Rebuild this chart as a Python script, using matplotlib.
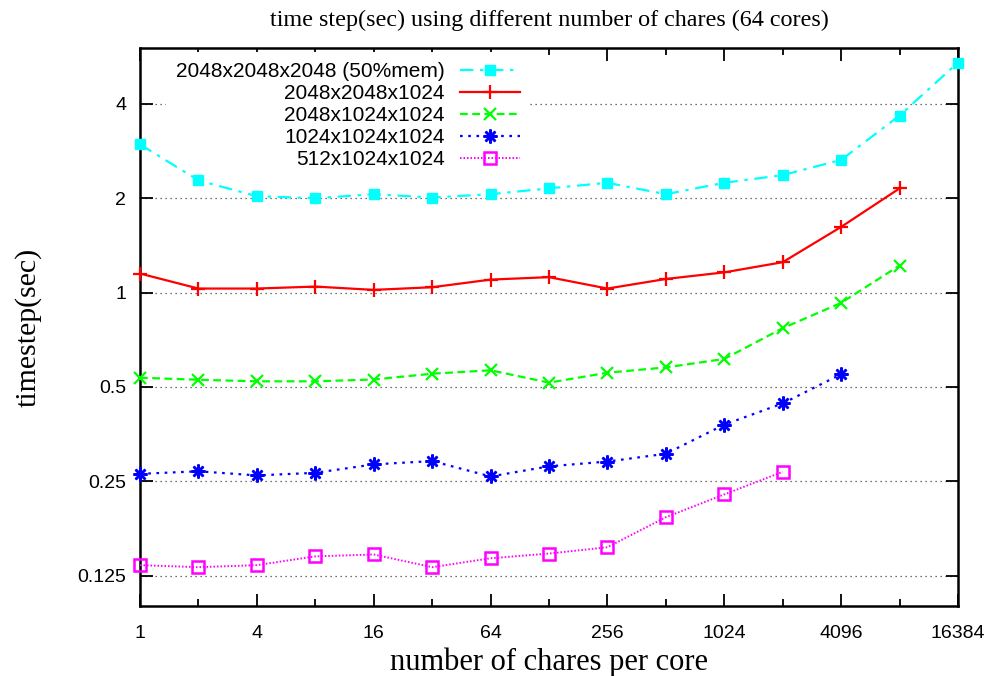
import numpy as np
import matplotlib
matplotlib.use("Agg")
import matplotlib.pyplot as plt
from matplotlib.ticker import FixedLocator, NullLocator, NullFormatter

# chares per core (powers of two)
chares = [1, 2, 4, 8, 16, 32, 64, 128, 256, 512, 1024, 2048, 4096, 8192, 16384]

t_2048_2048_2048 = [2.97, 2.28, 2.03, 2.00, 2.06, 2.01, 2.06, 2.15, 2.24, 2.06,
                    2.24, 2.37, 2.65, 3.67, 5.42]
t_2048_2048_1024 = [1.15, 1.03, 1.03, 1.045, 1.02, 1.04, 1.10, 1.12, 1.03, 1.105,
                    1.16, 1.25, 1.62, 2.15]
t_2048_1024_1024 = [0.535, 0.527, 0.521, 0.521, 0.528, 0.551, 0.565, 0.516, 0.555,
                    0.577, 0.614, 0.770, 0.927, 1.22]
t_1024_1024_1024 = [0.264, 0.269, 0.261, 0.266, 0.283, 0.290, 0.259, 0.279, 0.289,
                    0.306, 0.379, 0.443, 0.549]
t_512_1024_1024 = [0.135, 0.133, 0.135, 0.144, 0.146, 0.133, 0.142, 0.147, 0.154,
                   0.192, 0.227, 0.268]

labels = ["2048x2048x2048 (50%mem)", "2048x2048x1024", "2048x1024x1024",
          "1024x1024x1024", "512x1024x1024"]

xticks = [1, 4, 16, 64, 256, 1024, 4096, 16384]
xminor = [2, 8, 32, 128, 512, 2048, 8192]
yticks = [0.125, 0.25, 0.5, 1, 2, 4]
ytick_labels = ["0.125", "0.25", "0.5", "1", "2", "4"]

serif = "Liberation Serif"
sans = "Liberation Sans"

fig = plt.figure(figsize=(9.93, 6.76), dpi=100)
ax = fig.add_axes([140 / 993, 1 - 606 / 676, 818 / 993, 558 / 676])

series = [
    (t_2048_2048_2048, "#00ffff", (0, (6, 3, 1.5, 3)), "s", dict(markersize=7.5)),
    (t_2048_2048_1024, "#ff0000", "-", "+", dict(markersize=10, markeredgewidth=1.6)),
    (t_2048_1024_1024, "#00ff00", (0, (3.5, 2)), "x", dict(markersize=8, markeredgewidth=1.6)),
    (t_1024_1024_1024, "#0000ff", (0, (1.2, 2.5)), (8, 2, 0), dict(markersize=10, markeredgewidth=1.8)),
    (t_512_1024_1024, "#ff00ff", (0, (0.8, 1.0)), "s", dict(markersize=8, markerfacecolor="none",
                                                            markeredgewidth=1.8)),
]

for (vals, col, ls, mk, kw), lab in zip(series, labels):
    lw = 1.4 if col == "#ff00ff" else 1.6
    ax.plot(chares[:len(vals)], vals, color=col, linestyle=ls, linewidth=lw,
            marker=mk, markeredgecolor=col, label=lab, clip_on=False, zorder=3, **kw)

ax.set_xscale("log", base=2)
ax.set_yscale("log", base=2)
ax.set_xlim(1, 16384)
ax.set_ylim(0.1, 6.03)

ax.xaxis.set_major_locator(FixedLocator(xticks))
ax.set_xticklabels([str(v) for v in xticks])
ax.xaxis.set_minor_locator(FixedLocator(xminor))
ax.xaxis.set_minor_formatter(NullFormatter())
ax.yaxis.set_major_locator(FixedLocator(yticks))
ax.set_yticklabels(ytick_labels)
ax.yaxis.set_minor_locator(NullLocator())

ax.tick_params(which="both", direction="in", top=True, right=True, width=1.3)
ax.tick_params(which="major", length=9)
ax.tick_params(which="minor", length=5)
ax.tick_params(axis="x", which="major", pad=14)
ax.tick_params(axis="y", which="major", pad=10)
for t in ax.get_xticklabels() + ax.get_yticklabels():
    t.set_fontfamily(sans)
    t.set_fontsize(14)

for s in ax.spines.values():
    s.set_linewidth(1.8)

ax.yaxis.grid(True, which="major", color="#444444", linestyle=(0, (1, 3)), linewidth=0.9)
ax.set_axisbelow(True)

ax.set_title("time step(sec) using different number of chares (64 cores)",
             fontfamily=serif, fontsize=17.4, pad=16)
ax.set_xlabel("number of chares per core", fontfamily=serif, fontsize=22)
ax.set_ylabel("timestep(sec)", fontfamily=serif, fontsize=21.5)
ax.xaxis.set_label_coords(0.5, -0.074)
ax.yaxis.set_label_coords(-0.12, 0.5)

leg = ax.legend(loc="upper right", bbox_to_anchor=(0.477, 0.993), markerfirst=False,
                frameon=True, facecolor="white", edgecolor="none", framealpha=1,
                fancybox=False, borderaxespad=0, borderpad=0.5, handlelength=2.88,
                handletextpad=0.72, labelspacing=0.14,
                prop={"family": sans, "size": 15})
leg.set_zorder(2)

fig.savefig("out.png", dpi=100)
